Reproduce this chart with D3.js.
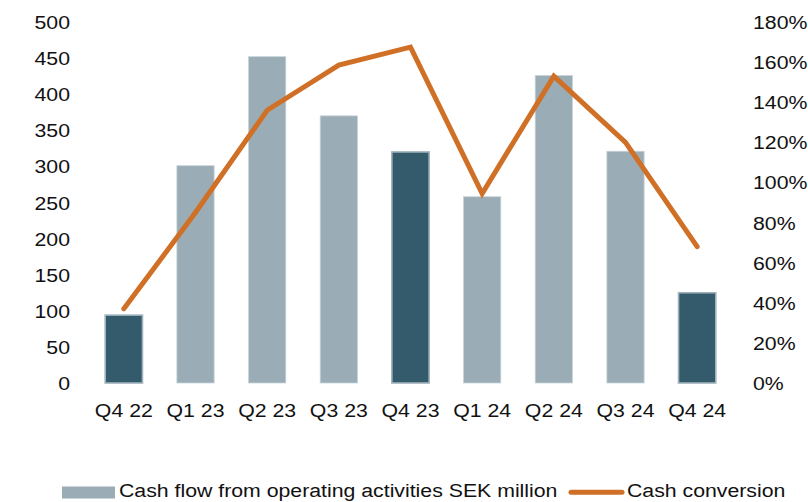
<!DOCTYPE html>
<html>
<head>
<meta charset="utf-8">
<script src="https://cdn.jsdelivr.net/npm/d3@7"></script>
<style>
  html, body { margin: 0; padding: 0; background: #fff; }
  svg { display: block; }
</style>
</head>
<body>
<div id="chart"></div>
<script>
// Cash flow from operating activities (bars, left axis) + cash conversion (line, right axis)
const quarters = ["Q4 22", "Q1 23", "Q2 23", "Q3 23", "Q4 23", "Q1 24", "Q2 24", "Q3 24", "Q4 24"];
const cashFlow = [94, 301, 452, 370, 320, 258, 426, 321, 125];
const conversion = [37, 85, 136, 158.5, 167.5, 94.5, 153, 120, 68];
const isQ4 = [true, false, false, false, true, false, false, false, true];
const leftTicks = [0, 50, 100, 150, 200, 250, 300, 350, 400, 450, 500];
const rightTicks = [0, 20, 40, 60, 80, 100, 120, 140, 160, 180];

const W = 808, H = 502;
const FONT = "'Liberation Sans', Arial, sans-serif";
const C = { light: "#9aacb5", dark: "#335b6c", orange: "#d07026", ink: "#111" };
const SX = 1.12; // glyphs in the original are slightly stretched sideways

const svg = d3.select("#chart").append("svg").attr("width", W).attr("height", H);

const x = d3.scaleBand().domain(quarters).range([88, 733]).paddingInner(0.48).paddingOuter(0.24);
const yL = d3.scaleLinear().domain([0, 500]).range([383, 22]);
const yR = d3.scaleLinear().domain([0, 180]).range([383, 22]);

// text helper: stretched label at (tx, ty)
function label(sel, tx, ty, anchor) {
  return sel.attr("transform", (d, i) => `translate(${tx(d, i)},${ty(d, i)}) scale(${SX},1)`)
    .attr("text-anchor", anchor)
    .attr("style", `font:19px ${FONT};fill:${C.ink}`);
}

// left axis labels
label(svg.append("g").selectAll("text").data(leftTicks).join("text"),
  () => 70, d => yL(d) + 7, "end").text(d => d);

// right axis labels
label(svg.append("g").selectAll("text").data(rightTicks).join("text"),
  () => 753, d => yR(d) + 7, "start").text(d => d + "%");

// bars
svg.append("g").selectAll("rect").data(quarters).join("rect")
  .attr("x", d => x(d)).attr("width", x.bandwidth())
  .attr("y", (d, i) => yL(cashFlow[i]))
  .attr("height", (d, i) => yL(0) - yL(cashFlow[i]))
  .attr("fill", (d, i) => isQ4[i] ? C.dark : C.light)
  .attr("stroke", (d, i) => isQ4[i] ? "#9fb2bb" : "#c9d4d9")
  .attr("stroke-width", (d, i) => isQ4[i] ? 1.6 : 0.8);

// category labels
label(svg.append("g").selectAll("text").data(quarters).join("text"),
  d => x(d) + x.bandwidth() / 2, () => 416.5, "middle").text(d => d);

// cash conversion line
const line = d3.line()
  .x((d, i) => x(quarters[i]) + x.bandwidth() / 2)
  .y(d => yR(d));
svg.append("path").datum(conversion)
  .attr("d", line)
  .attr("fill", "none").attr("stroke", C.orange)
  .attr("stroke-width", 5).attr("stroke-linecap", "round").attr("stroke-linejoin", "miter");

// legend
const lg = svg.append("g");
lg.append("rect").attr("x", 62).attr("y", 486.5).attr("width", 53).attr("height", 12).attr("fill", C.light);
label(lg.append("text"), () => 119, () => 497, "start")
  .text("Cash flow from operating activities SEK million");
lg.append("line").attr("x1", 571).attr("x2", 622).attr("y1", 492.3).attr("y2", 492.3)
  .attr("stroke", C.orange).attr("stroke-width", 5).attr("stroke-linecap", "round");
label(lg.append("text"), () => 627, () => 497, "start")
  .text("Cash conversion");
</script>
</body>
</html>
